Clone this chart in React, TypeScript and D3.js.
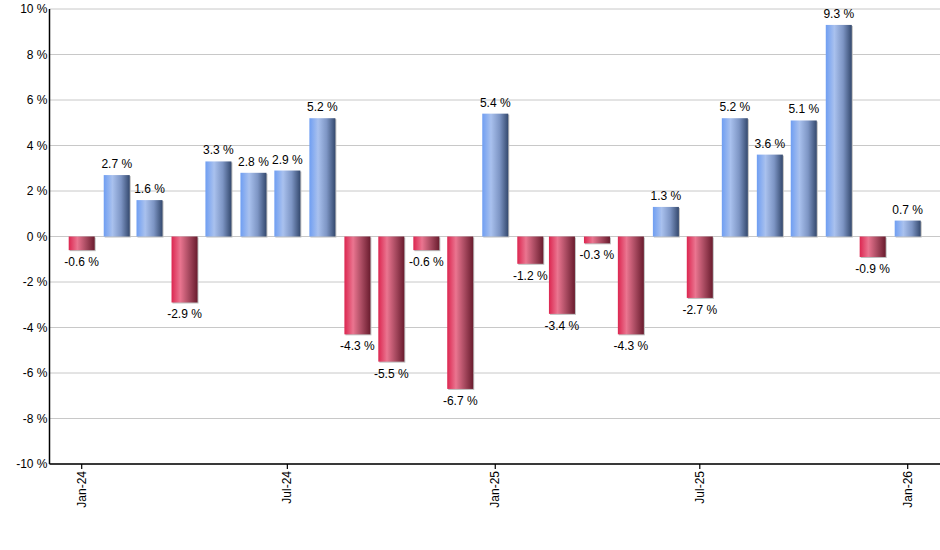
import { useEffect, useRef } from 'react'
import * as d3 from 'd3'

const months = [
  '2024-01', '2024-02', '2024-03', '2024-04', '2024-05', '2024-06', '2024-07', '2024-08',
  '2024-09', '2024-10', '2024-11', '2024-12', '2025-01', '2025-02', '2025-03', '2025-04',
  '2025-05', '2025-06', '2025-07', '2025-08', '2025-09', '2025-10', '2025-11', '2025-12',
  '2026-01',
]
const returns = [
  -0.6, 2.7, 1.6, -2.9, 3.3, 2.8, 2.9, 5.2,
  -4.3, -5.5, -0.6, -6.7, 5.4, -1.2, -3.4, -0.3,
  -4.3, 1.3, -2.7, 5.2, 3.6, 5.1, 9.3, -0.9,
  0.7,
]
const yTicks = [-10, -8, -6, -4, -2, 0, 2, 4, 6, 8, 10]

export default function App() {
  const svgRef = useRef<SVGSVGElement>(null)

  useEffect(() => {
    if (!svgRef.current) return
    const svg = d3.select(svgRef.current)
    svg.selectAll('*').remove()

    const width = 940
    const height = 550
    const left = 49.5
    const right = 940
    const top = 9
    const bottom = 464
    const font = 'Arial, "Liberation Sans", sans-serif'

    const parse = d3.timeParse('%Y-%m')
    const data = months.map((m, i) => ({ date: parse(m) as Date, value: returns[i] }))

    const x = d3.scaleTime()
      .domain([parse('2024-01') as Date, parse('2026-01') as Date])
      .range([81.7, 907.7])
    const y = d3.scaleLinear().domain([-10, 10]).range([bottom, top])

    svg.attr('width', width).attr('height', height)

    // Gradients
    const defs = svg.append('defs')
    const grad = (id: string, stops: string[]) => {
      const lg = defs.append('linearGradient').attr('id', id)
        .attr('x1', '0%').attr('x2', '100%').attr('y1', '0%').attr('y2', '0%')
      stops.forEach((c, i) => {
        lg.append('stop').attr('offset', `${(i / (stops.length - 1)) * 100}%`).attr('stop-color', c)
      })
    }
    grad('gradUp', ['#6f9ef2', '#a9c1ee', '#7d95c4', '#34496e'])
    grad('gradDown', ['#dc2650', '#ea7590', '#a84a60', '#6a1c2e'])

    // Grid
    svg.append('g').selectAll('line').data(yTicks).join('line')
      .attr('x1', left).attr('x2', right)
      .attr('y1', d => y(d)).attr('y2', d => y(d))
      .attr('stroke', '#c8c8c8').attr('stroke-width', 1)

    // Y labels
    svg.append('g').selectAll('text').data(yTicks).join('text')
      .attr('x', left - 2).attr('y', d => y(d) + 4)
      .attr('text-anchor', 'end')
      .attr('font-family', font).attr('font-size', 12).attr('fill', '#000')
      .text(d => `${d} %`)

    const bw = 26

    // Shadows
    svg.append('g').selectAll('rect').data(data).join('rect')
      .attr('x', d => x(d.date) - bw / 2 + 1)
      .attr('y', d => Math.min(y(d.value), y(0)) + 1)
      .attr('width', bw)
      .attr('height', d => Math.abs(y(d.value) - y(0)))
      .attr('fill', '#bdbdbd')

    // Bars
    svg.append('g').selectAll('rect').data(data).join('rect')
      .attr('x', d => x(d.date) - bw / 2)
      .attr('y', d => Math.min(y(d.value), y(0)))
      .attr('width', bw)
      .attr('height', d => Math.abs(y(d.value) - y(0)))
      .attr('fill', d => (d.value >= 0 ? 'url(#gradUp)' : 'url(#gradDown)'))

    // Value labels
    svg.append('g').selectAll('text').data(data).join('text')
      .attr('x', d => x(d.date))
      .attr('y', d => (d.value >= 0 ? y(d.value) - 7 : y(d.value) + 16))
      .attr('text-anchor', 'middle')
      .attr('font-family', font).attr('font-size', 12).attr('fill', '#000')
      .text(d => `${d.value.toFixed(1)} %`)

    // Axes lines
    svg.append('line')
      .attr('x1', left).attr('x2', left).attr('y1', top).attr('y2', bottom)
      .attr('stroke', '#000').attr('stroke-width', 1.5)
    svg.append('line')
      .attr('x1', left).attr('x2', right).attr('y1', bottom).attr('y2', bottom)
      .attr('stroke', '#000').attr('stroke-width', 1.5)

    // X ticks
    const xTicks = x.ticks(d3.timeMonth.every(6) as d3.TimeInterval)
    const fmt = d3.timeFormat('%b-%y')
    const xt = svg.append('g').selectAll('g').data(xTicks).join('g')
      .attr('transform', d => `translate(${x(d)},${bottom})`)
    xt.append('line').attr('y1', 0).attr('y2', 5).attr('stroke', '#000').attr('stroke-width', 1.2)
    xt.append('text')
      .attr('transform', 'rotate(-90)')
      .attr('x', -7).attr('y', 4)
      .attr('text-anchor', 'end')
      .attr('font-family', font).attr('font-size', 12).attr('fill', '#000')
      .text(d => fmt(d))
  }, [])

  return <svg ref={svgRef} style={{ display: 'block', position: 'absolute', left: 0, top: 0 }} />
}
